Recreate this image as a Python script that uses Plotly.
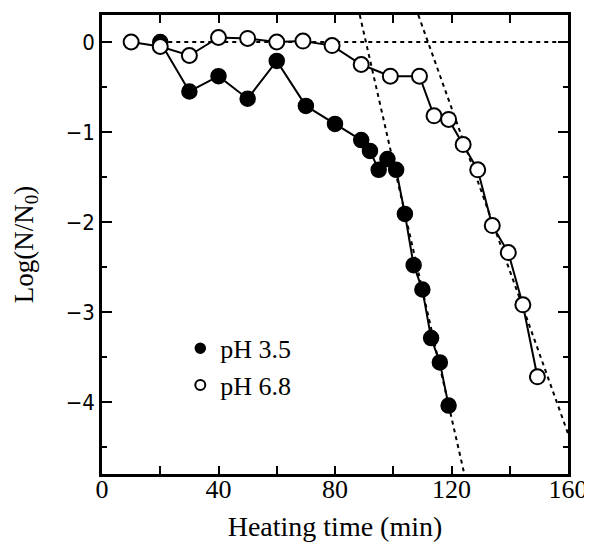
import plotly.graph_objects as go

# pH 3.5 (filled)
t_ph35 = [20, 30, 40, 50, 60, 70, 80, 89, 92, 95, 98, 101, 104, 107, 110, 113, 116, 119]
y_ph35 = [0.0, -0.55, -0.38, -0.63, -0.21, -0.71, -0.91, -1.09, -1.21, -1.42, -1.30, -1.42,
          -1.91, -2.48, -2.75, -3.29, -3.56, -4.04]
# pH 6.8 (open)
t_ph68 = [10, 20, 30, 40, 50, 60, 69, 79, 89, 99, 109, 114, 119, 124, 129, 134, 139.5, 144.5, 149.5]
y_ph68 = [0.0, -0.05, -0.15, 0.05, 0.04, 0.0, 0.01, -0.04, -0.25, -0.38, -0.38, -0.82, -0.86,
          -1.14, -1.42, -2.04, -2.34, -2.92, -3.72]
# dashed reference lines
base_x = [20, 160]
base_y = [0, 0]
fit35_x = [88.5, 124.4]
fit35_y = [0.3, -4.8]
fit68_x = [108.6, 160]
fit68_y = [0.3, -4.35]

xticks = [0, 40, 80, 120, 160]
yticks = [0, -1, -2, -3, -4]
ytick_text = ["0", "−1", "−2", "−3", "−4"]

FONT = "Liberation Serif"
fig = go.Figure()
for xs, ys in [(base_x, base_y), (fit35_x, fit35_y), (fit68_x, fit68_y)]:
    fig.add_trace(go.Scatter(x=xs, y=ys, mode="lines", showlegend=False,
                             line=dict(color="black", width=2, dash="4px,4px")))
fig.add_trace(go.Scatter(x=t_ph35, y=y_ph35, mode="lines+markers", showlegend=False,
                         line=dict(color="black", width=2),
                         marker=dict(size=15, color="black", line=dict(color="black", width=1.5))))
fig.add_trace(go.Scatter(x=t_ph68, y=y_ph68, mode="lines+markers", showlegend=False,
                         line=dict(color="black", width=2),
                         marker=dict(size=15, color="white", line=dict(color="black", width=2))))
fig.add_trace(go.Scatter(x=[None], y=[None], mode="markers", name="pH 3.5",
                         marker=dict(size=10, color="black", line=dict(color="black", width=1.5))))
fig.add_trace(go.Scatter(x=[None], y=[None], mode="markers", name="pH 6.8",
                         marker=dict(size=10, color="white", line=dict(color="black", width=2))))

fig.update_layout(
    width=584, height=535,
    margin=dict(l=94, r=24, t=7, b=69),
    paper_bgcolor="white", plot_bgcolor="white",
    font=dict(family=FONT, size=26, color="black"),
    legend=dict(x=0.168, y=0.325, xanchor="left", yanchor="top", bgcolor="rgba(0,0,0,0)",
                font=dict(size=26), itemwidth=30, tracegroupgap=0),
    xaxis=dict(range=[0, 160], tickvals=xticks, ticktext=[str(v) for v in xticks],
               automargin=False, ticklabelstandoff=-10,
               ticks="inside", ticklen=8, tickwidth=2, tickcolor="black",
               tickfont=dict(size=26),
               minor=dict(dtick=20, ticks="inside", ticklen=8, tickwidth=2, tickcolor="black"),
               showline=True, linecolor="black", linewidth=2.5, mirror="ticks",
               showgrid=False, zeroline=False,
               title=dict(text="Heating time (min)", standoff=14, font=dict(size=28))),
    yaxis=dict(range=[-4.8, 0.3], tickvals=yticks, ticktext=ytick_text,
               automargin=False,
               ticks="inside", ticklen=10, tickwidth=2, tickcolor="black",
               tickfont=dict(family="DejaVu Sans Condensed", size=22),
               minor=dict(dtick=0.5, ticks="inside", ticklen=5, tickwidth=2, tickcolor="black"),
               showline=True, linecolor="black", linewidth=2.5, mirror="ticks",
               showgrid=False, zeroline=False,
               title=dict(text="Log(N/N<sub>0</sub>)", standoff=25, font=dict(size=27))),
)
fig.write_html("out.html")
